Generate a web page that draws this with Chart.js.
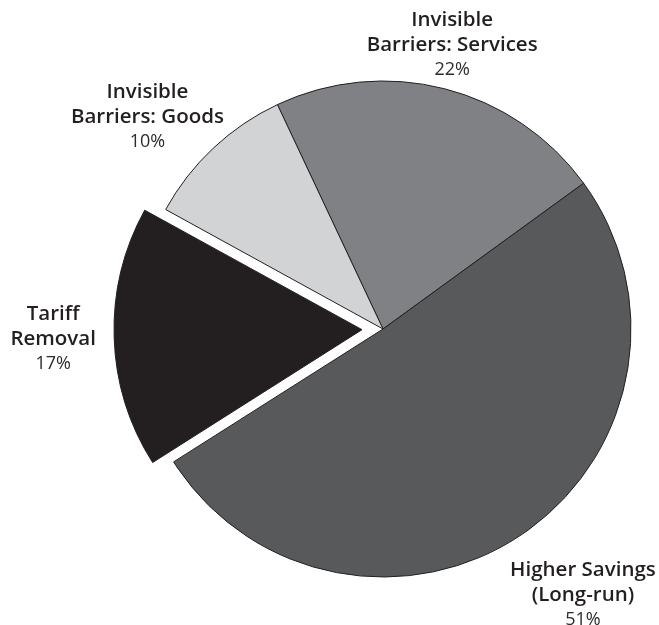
<!DOCTYPE html>
<html>
<head>
<meta charset="utf-8">
<script src="https://cdn.jsdelivr.net/npm/chart.js@4.4.1/dist/chart.umd.min.js"></script>
<style>
  html, body { margin: 0; padding: 0; background: #ffffff; }
  #wrap { width: 659px; height: 625px; }
</style>
</head>
<body>
<div id="wrap"><canvas id="pie" width="659" height="625"></canvas></div>
<script>
// Sources of gains, share of total (%)
const categories = [
  ['Invisible', 'Barriers: Services'],
  ['Higher Savings', '(Long-run)'],
  ['Tariff', 'Removal'],
  ['Invisible', 'Barriers: Goods']
];
const shares = [22, 51, 17, 10];
const shareLabels = ['22%', '51%', '17%', '10%'];

// Slice styling
const sliceColors = ['#808184', '#58595b', '#231f20', '#d1d3d4'];
// Pull-out distance of each slice along its bisector (px); radius stays unchanged
const sliceShift = [0, 0, 21, 0];

// Label placement around each slice: angle tweak (deg) and gap beyond the rim (px)
const labelAngleShift = [-0.7, -2.7, 0, -4.8];
const labelGap = [44, 85, 82, 69];

// Translate pulled-out slices without enlarging them
const explodePlugin = {
  id: 'explodeSlices',
  beforeDatasetsDraw(chart) {
    chart.getDatasetMeta(0).data.forEach((arc, i) => {
      const shift = sliceShift[i];
      if (!shift || arc._shiftWrapped) return;
      const baseDraw = arc.draw.bind(arc);
      arc.draw = function (ctx, area) {
        const mid = (this.startAngle + this.endAngle) / 2;
        ctx.save();
        ctx.translate(Math.cos(mid) * shift, Math.sin(mid) * shift);
        baseDraw(ctx, area);
        ctx.restore();
      };
      arc._shiftWrapped = true;
    });
  }
};

const labelPlugin = {
  id: 'sliceLabels',
  afterDatasetsDraw(chart) {
    const ctx = chart.ctx;
    const meta = chart.getDatasetMeta(0);
    ctx.save();
    ctx.textAlign = 'center';
    ctx.textBaseline = 'middle';
    meta.data.forEach((arc, i) => {
      const p = arc.getProps(['x', 'y', 'startAngle', 'endAngle', 'outerRadius'], true);
      const mid = (p.startAngle + p.endAngle) / 2 + labelAngleShift[i] * Math.PI / 180;
      const dist = p.outerRadius + labelGap[i];
      const cx = p.x + Math.cos(mid) * dist;
      const cy = p.y + Math.sin(mid) * dist;
      const lines = chart.data.labels[i];
      ctx.fillStyle = '#231f20';
      ctx.font = '600 20.5px "Open Sans", "Noto Sans", sans-serif';
      ctx.fillText(lines[0], cx, cy - 25);
      ctx.fillText(lines[1], cx, cy);
      ctx.fillStyle = '#2e2b2c';
      ctx.font = '400 18px "Open Sans", "Noto Sans", sans-serif';
      ctx.fillText(shareLabels[i], cx, cy + 25);
    });
    ctx.restore();
  }
};

new Chart(document.getElementById('pie'), {
  type: 'pie',
  data: {
    labels: categories,
    datasets: [{
      data: shares,
      backgroundColor: sliceColors,
      borderColor: '#231f20',
      borderWidth: 1,
      clip: false
    }]
  },
  options: {
    responsive: false,
    animation: false,
    rotation: -25.2,
    radius: 248,
    layout: { padding: { left: 107, right: 0, top: 33, bottom: 0 } },
    plugins: {
      legend: { display: false },
      tooltip: { enabled: false }
    }
  },
  plugins: [explodePlugin, labelPlugin]
});
</script>
</body>
</html>
